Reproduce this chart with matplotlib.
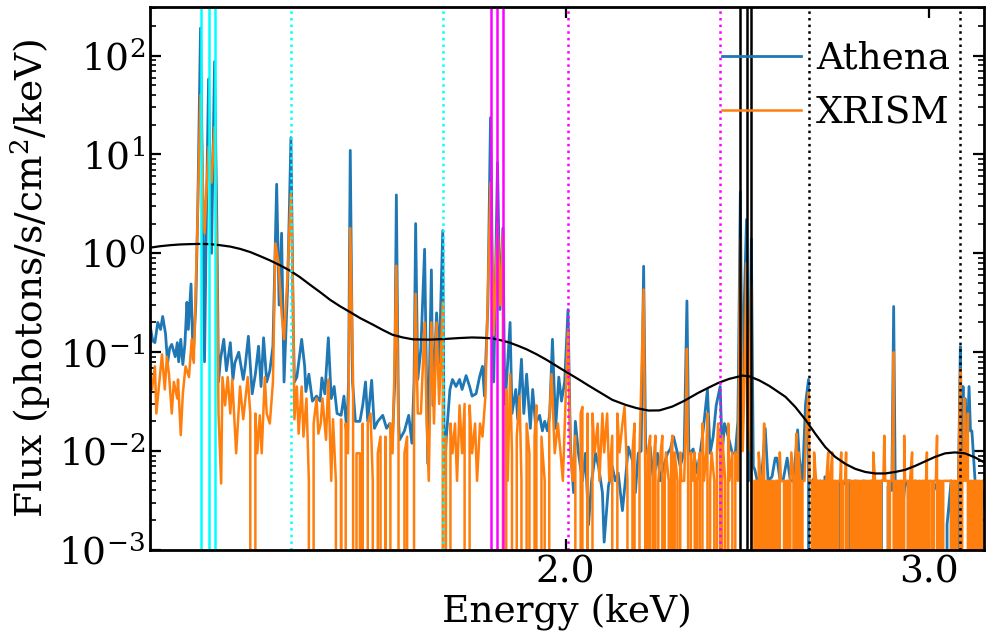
import matplotlib
matplotlib.use("Agg")
import matplotlib.pyplot as plt
from matplotlib.ticker import NullLocator

plt.rcParams["font.family"] = "DejaVu Serif"
plt.rcParams["mathtext.fontset"] = "dejavuserif"

# (energy keV, flux)
ATHENA = [
    (1.258, 0.19), (1.262, 0.13), (1.265, 0.125), (1.269, 0.20), (1.273, 0.17),
    (1.276, 0.23), (1.280, 0.155), (1.283, 0.078), (1.286, 0.11), (1.289, 0.12),
    (1.294, 0.09), (1.297, 0.125), (1.299, 0.08), (1.302, 0.135), (1.305, 0.075),
    (1.308, 0.12), (1.311, 0.32), (1.313, 0.17), (1.317, 0.49), (1.320, 0.085),
    (1.324, 0.3), (1.327, 3.0), (1.331, 190), (1.334, 5.0), (1.337, 0.08),
    (1.340, 3.0), (1.343, 58), (1.3475, 1.0), (1.352, 87), (1.3555, 2.0),
    (1.358, 0.05), (1.361, 0.085), (1.366, 0.135), (1.370, 0.065), (1.376, 0.125),
    (1.380, 0.053), (1.383, 0.078), (1.389, 0.10), (1.396, 0.053), (1.399, 0.072),
    (1.404, 0.145), (1.410, 0.038), (1.415, 0.06), (1.420, 0.115), (1.424, 0.045),
    (1.428, 0.14), (1.433, 0.05), (1.438, 0.065), (1.443, 0.115), (1.449, 5.0),
    (1.453, 0.3), (1.457, 1.6), (1.461, 0.05), (1.467, 0.5), (1.4723, 14.8),
    (1.476, 0.2), (1.478, 0.05), (1.482, 0.056), (1.490, 0.135), (1.495, 0.072),
    (1.497, 0.04), (1.502, 0.06), (1.508, 0.032), (1.515, 0.036), (1.521, 0.032),
    (1.524, 0.055), (1.529, 0.038), (1.535, 0.14), (1.540, 0.034), (1.545, 0.045),
    (1.550, 0.024), (1.557, 0.023), (1.562, 0.036), (1.567, 0.016), (1.570, 0.05),
    (1.573, 11.0), (1.577, 0.05), (1.582, 0.02), (1.590, 0.02), (1.595, 0.029),
    (1.600, 0.05), (1.604, 0.02), (1.611, 0.052), (1.616, 0.017), (1.622, 0.02),
    (1.631, 0.023), (1.638, 0.017), (1.644, 0.019), (1.649, 0.014), (1.653, 0.05),
    (1.656, 3.9), (1.660, 0.02), (1.662, 0.013), (1.671, 0.016), (1.679, 0.023),
    (1.685, 0.012), (1.689, 0.05), (1.692, 2.0), (1.696, 0.053), (1.702, 0.11),
    (1.709, 1.1), (1.715, 0.0075), (1.722, 0.68), (1.725, 0.029), (1.732, 0.25),
    (1.737, 0.078), (1.744, 1.7), (1.747, 0.0055), (1.751, 0.014), (1.758, 0.042),
    (1.763, 0.053), (1.770, 0.045), (1.777, 0.053), (1.782, 0.042), (1.790, 0.058),
    (1.797, 0.045), (1.802, 0.036), (1.810, 0.038), (1.817, 0.056), (1.823, 0.072),
    (1.827, 0.036), (1.834, 0.3), (1.8394, 23.6), (1.846, 0.05), (1.8538, 8.3),
    (1.859, 0.27), (1.865, 1.8), (1.869, 0.03), (1.872, 0.045), (1.880, 0.2),
    (1.884, 0.024), (1.892, 0.042), (1.896, 0.021), (1.904, 0.085), (1.909, 0.024),
    (1.915, 0.06), (1.923, 0.017), (1.928, 0.042), (1.934, 0.019), (1.943, 0.023),
    (1.949, 0.016), (1.954, 0.02), (1.960, 0.016), (1.965, 0.024), (1.971, 0.135),
    (1.978, 0.017), (1.985, 0.056), (1.991, 0.032), (1.998, 0.05), (2.0055, 0.27),
    (2.011, 0.011), (2.018, 0.0038), (2.022, 0.02), (2.029, 0.0095), (2.038, 0.005),
    (2.045, 0.0095), (2.052, 0.0018), (2.059, 0.005), (2.068, 0.0095), (2.075, 0.007),
    (2.084, 0.0038), (2.088, 0.0012), (2.098, 0.0044), (2.107, 0.007), (2.114, 0.005),
    (2.121, 0.006), (2.131, 0.0025), (2.138, 0.005), (2.145, 0.011), (2.155, 0.008),
    (2.162, 0.0038), (2.169, 0.0095), (2.176, 0.01), (2.182, 0.74), (2.187, 0.01),
    (2.191, 0.0095), (2.198, 0.011), (2.206, 0.005), (2.216, 0.0095), (2.223, 0.005),
    (2.231, 0.007), (2.241, 0.0095), (2.248, 0.0105), (2.256, 0.014), (2.266, 0.0095),
    (2.273, 0.007), (2.283, 0.01), (2.290, 0.33), (2.295, 0.01), (2.298, 0.0095),
    (2.306, 0.0105), (2.316, 0.006), (2.324, 0.0095), (2.332, 0.0164), (2.343, 0.042),
    (2.350, 0.0095), (2.358, 0.014), (2.366, 0.029), (2.3765, 0.045), (2.382, 0.0095),
    (2.388, 0.019), (2.398, 0.014), (2.409, 0.0095), (2.417, 0.0095), (2.424, 0.02),
    (2.4306, 4.2), (2.436, 0.018), (2.441, 0.3), (2.4474, 2.2), (2.453, 0.005),
    (2.4606, 1.4), (2.466, 0.007), (2.470, 0.0065), (2.477, 0.005), (2.490, 0.006),
    (2.499, 0.017), (2.507, 0.005), (2.518, 0.0055), (2.527, 0.0085), (2.532, 0.0085),
    (2.541, 0.005), (2.549, 0.005), (2.561, 0.0085), (2.570, 0.005), (2.579, 0.005),
    (2.591, 0.0164), (2.596, 0.0085), (2.605, 0.005), (2.614, 0.03), (2.6227, 0.053),
    (2.628, 0.0), (2.634, 0.005), (2.642, 0.0055), (2.650, 0.0045), (2.658, 0.005),
    (2.664, 0.0), (2.671, 0.0055), (2.680, 0.005), (2.688, 0.0044), (2.696, 0.0044),
    (2.705, 0.0), (2.714, 0.005), (2.723, 0.0044), (2.733, 0.005), (2.747, 0.005),
    (2.756, 0.0), (2.765, 0.005), (2.775, 0.0045), (2.790, 0.005), (2.803, 0.0038),
    (2.815, 0.005), (2.835, 0.0025), (2.845, 0.005), (2.855, 0.0), (2.866, 0.0044),
    (2.878, 0.004), (2.884, 0.29), (2.889, 0.005), (2.900, 0.0), (2.912, 0.0025),
    (2.922, 0.005), (2.931, 0.0044), (2.945, 0.0), (2.955, 0.005), (2.977, 0.0038),
    (2.990, 0.005), (3.000, 0.0), (3.013, 0.0038), (3.030, 0.005), (3.045, 0.0),
    (3.061, 0.0018), (3.075, 0.005), (3.090, 0.0), (3.100, 0.005), (3.1067, 0.114),
    (3.111, 0.01), (3.116, 0.045), (3.120, 0.015), (3.123, 0.034), (3.130, 0.01),
    (3.137, 0.045), (3.142, 0.016), (3.147, 0.016), (3.158, 0.005), (3.168, 0.0018),
    (3.182, 0.0025), (3.190, 0.004),
]

XRISM = [
    (1.258, 0.06), (1.261, 0.042), (1.265, 0.072), (1.267, 0.024), (1.275, 0.095),
    (1.279, 0.042), (1.282, 0.09), (1.285, 0.06), (1.289, 0.024), (1.292, 0.05),
    (1.297, 0.034), (1.298, 0.053), (1.302, 0.0145), (1.305, 0.038), (1.309, 0.072),
    (1.314, 0.056), (1.318, 0.135), (1.321, 0.078), (1.326, 1.5), (1.331, 40),
    (1.3345, 5.0), (1.337, 1.6), (1.343, 12), (1.3475, 5.2), (1.352, 19),
    (1.3555, 1.0), (1.358, 0.024), (1.362, 0.0047), (1.364, 0.056), (1.368, 0.029),
    (1.372, 0.056), (1.376, 0.024), (1.379, 0.053), (1.385, 0.0095), (1.391, 0.045),
    (1.396, 0.021), (1.403, 0.056), (1.407, 0.024), (1.412, 0.0), (1.415, 0.024),
    (1.418, 0.0095), (1.422, 0.023), (1.425, 0.0095), (1.430, 0.056), (1.433, 0.024),
    (1.438, 0.019), (1.443, 0.05), (1.447, 1.26), (1.452, 0.8), (1.457, 0.25),
    (1.461, 0.135), (1.466, 0.5), (1.4723, 4.0), (1.476, 0.3), (1.478, 0.021),
    (1.482, 0.045), (1.485, 0.015), (1.490, 0.045), (1.493, 0.014), (1.498, 0.034),
    (1.502, 0.005), (1.506, 0.0), (1.510, 0.019), (1.515, 0.034), (1.518, 0.015),
    (1.522, 0.019), (1.525, 0.034), (1.531, 0.013), (1.535, 0.053), (1.540, 0.005),
    (1.543, 0.021), (1.548, 0.005), (1.552, 0.0), (1.557, 0.021), (1.560, 0.0),
    (1.565, 0.019), (1.569, 0.0095), (1.573, 1.8), (1.578, 0.05), (1.580, 0.0),
    (1.584, 0.0095), (1.590, 0.0095), (1.593, 0.0), (1.595, 0.019), (1.600, 0.0),
    (1.604, 0.019), (1.609, 0.024), (1.613, 0.005), (1.618, 0.0), (1.622, 0.0095),
    (1.627, 0.014), (1.631, 0.0), (1.636, 0.014), (1.640, 0.0), (1.645, 0.019),
    (1.649, 0.0095), (1.652, 0.05), (1.656, 0.75), (1.660, 0.014), (1.665, 0.0),
    (1.671, 0.0095), (1.676, 0.014), (1.685, 0.0), (1.689, 0.03), (1.692, 0.39),
    (1.696, 0.024), (1.702, 0.024), (1.709, 0.2), (1.713, 0.02), (1.717, 0.005),
    (1.722, 0.2), (1.727, 0.019), (1.732, 0.2), (1.737, 0.03), (1.744, 0.32),
    (1.747, 0.0), (1.750, 0.014), (1.753, 0.0), (1.759, 0.019), (1.763, 0.0095),
    (1.768, 0.019), (1.772, 0.005), (1.777, 0.029), (1.782, 0.0095), (1.787, 0.03),
    (1.791, 0.0), (1.797, 0.029), (1.802, 0.0095), (1.808, 0.019), (1.812, 0.005),
    (1.818, 0.019), (1.823, 0.014), (1.829, 0.036), (1.834, 0.4), (1.8394, 5.2),
    (1.846, 0.15), (1.8538, 2.0), (1.859, 0.3), (1.865, 1.6), (1.869, 0.0),
    (1.872, 0.042), (1.875, 0.005), (1.880, 0.06), (1.884, 0.0095), (1.890, 0.0),
    (1.894, 0.014), (1.900, 0.036), (1.904, 0.005), (1.911, 0.0), (1.915, 0.019),
    (1.921, 0.0095), (1.925, 0.0), (1.932, 0.014), (1.936, 0.029), (1.943, 0.0),
    (1.947, 0.014), (1.954, 0.005), (1.958, 0.0), (1.964, 0.019), (1.969, 0.06),
    (1.976, 0.0095), (1.983, 0.019), (1.989, 0.0095), (1.994, 0.005), (2.0055, 0.17),
    (2.011, 0.0097), (2.016, 0.005), (2.022, 0.0143), (2.027, 0.0), (2.034, 0.024),
    (2.038, 0.028), (2.043, 0.0), (2.050, 0.024), (2.054, 0.0), (2.061, 0.024),
    (2.066, 0.0097), (2.073, 0.019), (2.077, 0.005), (2.084, 0.024), (2.088, 0.0097),
    (2.095, 0.024), (2.100, 0.005), (2.107, 0.0143), (2.112, 0.0), (2.119, 0.024),
    (2.124, 0.0097), (2.131, 0.019), (2.136, 0.028), (2.143, 0.005), (2.148, 0.0),
    (2.155, 0.0097), (2.160, 0.019), (2.167, 0.0), (2.172, 0.0097), (2.182, 0.43),
    (2.186, 0.005), (2.189, 0.0), (2.192, 0.0097), (2.198, 0.0143), (2.201, 0.0),
    (2.205, 0.005), (2.208, 0.0097), (2.211, 0.0143), (2.214, 0.0), (2.218, 0.005),
    (2.224, 0.0097), (2.228, 0.0143), (2.231, 0.0), (2.234, 0.005), (2.237, 0.0097),
    (2.244, 0.005), (2.247, 0.0), (2.250, 0.0097), (2.253, 0.0143), (2.256, 0.0),
    (2.259, 0.0097), (2.266, 0.005), (2.269, 0.0), (2.273, 0.0097), (2.276, 0.005),
    (2.283, 0.005), (2.287, 0.02), (2.290, 0.108), (2.293, 0.005), (2.296, 0.0),
    (2.300, 0.0097), (2.306, 0.005), (2.310, 0.0097), (2.313, 0.0), (2.316, 0.005),
    (2.323, 0.0097), (2.327, 0.0), (2.330, 0.019), (2.334, 0.005), (2.340, 0.0097),
    (2.343, 0.024), (2.347, 0.0), (2.350, 0.005), (2.354, 0.0097), (2.361, 0.005),
    (2.364, 0.0), (2.368, 0.0097), (2.371, 0.019), (2.3765, 0.0097), (2.380, 0.0),
    (2.382, 0.0143), (2.390, 0.005), (2.394, 0.0), (2.398, 0.019), (2.401, 0.005),
    (2.409, 0.0097), (2.413, 0.0), (2.417, 0.0097), (2.424, 0.005), (2.4306, 1.4),
    (2.437, 0.01), (2.442, 0.05), (2.4474, 0.8), (2.452, 0.01), (2.4606, 0.48),
    (2.466, 0.0), (2.469, 0.005), (2.475, 0.005), (2.478, 0.0), (2.481, 0.0097),
    (2.487, 0.005), (2.490, 0.0), (2.493, 0.005), (2.496, 0.019), (2.499, 0.0),
    (2.502, 0.005), (2.508, 0.005), (2.511, 0.0), (2.515, 0.005), (2.521, 0.005),
    (2.525, 0.0), (2.528, 0.005), (2.534, 0.005), (2.537, 0.0), (2.540, 0.0097),
    (2.543, 0.005), (2.552, 0.005), (2.555, 0.0), (2.558, 0.005), (2.564, 0.005),
    (2.567, 0.0), (2.570, 0.005), (2.573, 0.0097), (2.579, 0.005), (2.582, 0.0),
    (2.585, 0.005), (2.587, 0.015), (2.590, 0.0), (2.593, 0.0097), (2.599, 0.005),
    (2.602, 0.0), (2.605, 0.005), (2.611, 0.005), (2.614, 0.0097), (2.617, 0.02),
    (2.6227, 0.039), (2.626, 0.005), (2.632, 0.005), (2.635, 0.0), (2.639, 0.0097),
    (2.645, 0.005), (2.648, 0.0), (2.651, 0.005), (2.657, 0.005), (2.660, 0.0),
    (2.663, 0.005), (2.669, 0.005), (2.672, 0.0), (2.675, 0.005), (2.681, 0.0097),
    (2.684, 0.0), (2.687, 0.005), (2.693, 0.0097), (2.696, 0.0), (2.699, 0.005),
    (2.705, 0.005), (2.708, 0.0), (2.711, 0.005), (2.717, 0.005), (2.720, 0.0097),
    (2.723, 0.0), (2.726, 0.005), (2.732, 0.005), (2.735, 0.0097), (2.738, 0.0),
    (2.741, 0.005), (2.750, 0.005), (2.753, 0.0), (2.756, 0.005), (2.763, 0.005),
    (2.766, 0.0), (2.769, 0.005), (2.775, 0.005), (2.778, 0.0), (2.781, 0.005),
    (2.788, 0.005), (2.791, 0.0), (2.794, 0.005), (2.800, 0.005), (2.803, 0.0),
    (2.806, 0.005), (2.813, 0.005), (2.816, 0.0), (2.819, 0.0097), (2.825, 0.005),
    (2.828, 0.0), (2.832, 0.005), (2.838, 0.005), (2.841, 0.0), (2.844, 0.005),
    (2.851, 0.005), (2.854, 0.0143), (2.857, 0.005), (2.866, 0.005), (2.869, 0.0),
    (2.872, 0.005), (2.879, 0.005), (2.884, 0.1), (2.888, 0.0), (2.891, 0.005),
    (2.898, 0.005), (2.901, 0.0), (2.904, 0.005), (2.911, 0.005), (2.914, 0.0),
    (2.918, 0.0143), (2.921, 0.005), (2.930, 0.005), (2.933, 0.0), (2.937, 0.005),
    (2.944, 0.0097), (2.947, 0.0), (2.950, 0.005), (2.957, 0.005), (2.961, 0.0),
    (2.964, 0.005), (2.971, 0.005), (2.974, 0.0), (2.977, 0.005), (2.984, 0.005),
    (2.987, 0.0), (2.990, 0.005), (2.993, 0.0097), (2.997, 0.0), (3.000, 0.005),
    (3.009, 0.005), (3.013, 0.0), (3.016, 0.005), (3.023, 0.005), (3.027, 0.0143),
    (3.030, 0.0), (3.034, 0.005), (3.041, 0.005), (3.044, 0.0), (3.048, 0.005),
    (3.055, 0.005), (3.058, 0.005), (3.075, 0.005), (3.078, 0.0), (3.082, 0.005),
    (3.089, 0.005), (3.092, 0.0), (3.096, 0.005), (3.100, 0.005), (3.1067, 0.067),
    (3.110, 0.0), (3.113, 0.0097), (3.117, 0.005), (3.120, 0.034), (3.124, 0.005),
    (3.127, 0.0143), (3.131, 0.005), (3.133, 0.024), (3.137, 0.0), (3.140, 0.005),
    (3.147, 0.005), (3.151, 0.0), (3.154, 0.005), (3.161, 0.005), (3.165, 0.0),
    (3.168, 0.005), (3.175, 0.005), (3.179, 0.0), (3.182, 0.005), (3.190, 0.005),
]

# smooth black curve
MODEL = [
    (1.258, 1.14), (1.272, 1.18), (1.287, 1.21), (1.301, 1.23), (1.316, 1.24),
    (1.330, 1.245), (1.345, 1.24), (1.360, 1.21), (1.376, 1.17), (1.391, 1.11),
    (1.407, 1.03), (1.422, 0.94), (1.438, 0.85), (1.454, 0.76), (1.471, 0.667),
    (1.487, 0.575), (1.504, 0.481), (1.521, 0.405), (1.538, 0.339), (1.555, 0.292),
    (1.572, 0.256), (1.590, 0.222), (1.614, 0.189), (1.631, 0.168), (1.649, 0.150),
    (1.668, 0.141), (1.687, 0.135), (1.717, 0.134), (1.747, 0.136), (1.775, 0.139),
    (1.802, 0.141), (1.823, 0.140), (1.843, 0.138), (1.861, 0.132), (1.879, 0.125),
    (1.897, 0.116), (1.915, 0.107), (1.937, 0.095), (1.958, 0.0838), (1.979, 0.073),
    (2.000, 0.0638), (2.031, 0.0526), (2.052, 0.046), (2.075, 0.0400), (2.107, 0.033),
    (2.138, 0.0294), (2.165, 0.0272), (2.194, 0.0257), (2.221, 0.0258), (2.253, 0.0282),
    (2.283, 0.0322), (2.319, 0.0388), (2.348, 0.0442), (2.372, 0.049), (2.401, 0.0538),
    (2.437, 0.058), (2.455, 0.057), (2.482, 0.052), (2.510, 0.0457), (2.527, 0.0416),
    (2.556, 0.0354), (2.584, 0.028), (2.614, 0.0207), (2.643, 0.0149), (2.672, 0.0110),
    (2.702, 0.00873), (2.733, 0.00741), (2.763, 0.00661), (2.794, 0.00615), (2.825, 0.00594),
    (2.857, 0.00594), (2.889, 0.00615), (2.921, 0.00646), (2.954, 0.00708), (2.987, 0.00787),
    (3.020, 0.00873), (3.054, 0.00948), (3.088, 0.0097), (3.123, 0.00948), (3.158, 0.00863),
    (3.190, 0.00770),
]

# line identifications (keV)
MG_TRIPLET = [1.3311, 1.3431, 1.3522]
MG_LY = [1.4723, 1.7447]
SI_TRIPLET = [1.8394, 1.8538, 1.8650]
SI_LY = [2.0055, 2.3765]
S_TRIPLET = [2.4306, 2.4474, 2.4606]
S_LY = [2.6227, 3.1067]

fig = plt.figure(figsize=(9.93, 6.38), dpi=100)
ax = fig.add_axes([0.151, 0.138, 0.840, 0.851])

e, f = zip(*ATHENA)
ax.plot(e, f, color="#1f77b4", lw=2, label="Athena")
e, f = zip(*XRISM)
ax.plot(e, f, color="#ff7f0e", lw=1.8, label="XRISM")
e, f = zip(*MODEL)
ax.plot(e, f, color="black", lw=1.6)

for lines, col in [(MG_TRIPLET, "cyan"), (SI_TRIPLET, "magenta"), (S_TRIPLET, "black")]:
    for en in lines:
        ax.axvline(en, color=col, lw=1.8, ls="-")
for lines, col in [(MG_LY, "cyan"), (SI_LY, "magenta"), (S_LY, "black")]:
    for en in lines:
        ax.axvline(en, color=col, lw=1.8, ls=":")

ax.set_xscale("log")
ax.set_yscale("log")
ax.set_xlim(1.258, 3.19)
ax.set_ylim(1e-3, 3.1e2)

ax.set_xticks([2.0, 3.0])
ax.set_xticklabels(["2.0", "3.0"])
ax.xaxis.set_minor_locator(NullLocator())

ax.tick_params(which="both", direction="in", top=True, right=True, labelsize=27)
ax.tick_params(which="major", length=8, width=1.6)
ax.tick_params(which="minor", length=4, width=1.2)
for sp in ax.spines.values():
    sp.set_linewidth(2)

ax.set_xlabel("Energy (keV)", fontsize=27, labelpad=2)
ax.set_ylabel("Flux (photons/s/cm$^2$/keV)", fontsize=27)

ax.legend(loc="upper right", frameon=False, fontsize=27, handlelength=2.1,
          handletextpad=0.4)

fig.savefig("out.png", dpi=100)
